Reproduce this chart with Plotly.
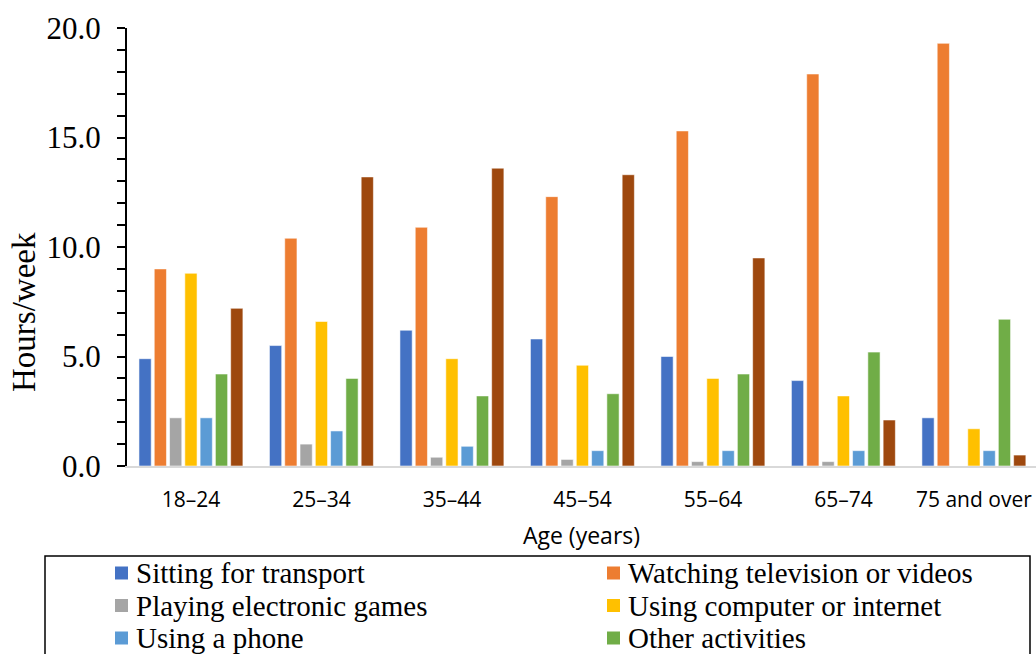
import plotly.graph_objects as go

categories = ["18–24", "25–34", "35–44", "45–54", "55–64", "65–74", "75 and over"]

sitting_transport = [4.9, 5.5, 6.2, 5.8, 5.0, 3.9, 2.2]
watching_tv = [9.0, 10.4, 10.9, 12.3, 15.3, 17.9, 19.3]
electronic_games = [2.2, 1.0, 0.4, 0.3, 0.2, 0.2, 0.0]
computer_internet = [8.8, 6.6, 4.9, 4.6, 4.0, 3.2, 1.7]
using_phone = [2.2, 1.6, 0.9, 0.7, 0.7, 0.7, 0.7]
other_activities = [4.2, 4.0, 3.2, 3.3, 4.2, 5.2, 6.7]
seventh_series = [7.2, 13.2, 13.6, 13.3, 9.5, 2.1, 0.5]

series_names = ["Sitting for transport", "Watching television or videos",
                "Playing electronic games", "Using computer or internet",
                "Using a phone", "Other activities", "Reading"]
series_values = [sitting_transport, watching_tv, electronic_games, computer_internet,
                 using_phone, other_activities, seventh_series]
series_colors = ["#4472C4", "#ED7D31", "#A5A5A5", "#FFC000", "#5B9BD5", "#70AD47", "#9E480E"]

W, H = 1036, 654
ML, MR, MT, MB = 127, 0, 28, 188
PW, PH = W - ML - MR, H - MT - MB


def px_x(px):
    return (px - ML) / PW


def px_y(py):
    return (H - MB - py) / PH


fig = go.Figure()
for name, vals, color in zip(series_names, series_values, series_colors):
    fig.add_trace(go.Bar(
        x=categories, y=vals, name=name, showlegend=False,
        marker=dict(color=color, line=dict(color="rgba(255,255,255,0.55)", width=1)),
    ))

serif = "Liberation Serif, Times New Roman, serif"
sans = "Open Sans, sans-serif"

# Legend (drawn manually to match the reference's compact two-column box;
# the last row falls below the visible canvas as in the reference)
shapes = [dict(type="rect", xref="paper", yref="paper",
               x0=px_x(45), x1=px_x(1030), y0=px_y(700), y1=px_y(556),
               line=dict(color="black", width=1.5), fillcolor="white", layer="above")]
annotations = []
col_x = [115, 607]
row_y = [573, 605.5, 638]
for i, (name, color) in enumerate(zip(series_names, series_colors)):
    r, c = divmod(i, 2)
    if r >= len(row_y):
        continue
    sx, sy = col_x[c], row_y[r]
    shapes.append(dict(type="rect", xref="paper", yref="paper",
                       x0=px_x(sx), x1=px_x(sx + 13), y0=px_y(sy + 6.5), y1=px_y(sy - 6.5),
                       line=dict(width=0), fillcolor=color, layer="above"))
    annotations.append(dict(xref="paper", yref="paper", x=px_x(sx + 19), y=px_y(sy),
                            text=name, showarrow=False, xanchor="left", yanchor="middle",
                            font=dict(family=serif, size=29, color="black")))

# y-axis title (sits below the axis centre in the reference)
annotations.append(dict(xref="paper", yref="paper", x=px_x(24), y=px_y(312),
                        text="Hours/week", textangle=-90, showarrow=False,
                        xanchor="center", yanchor="middle",
                        font=dict(family=serif, size=33, color="black")))

fig.update_layout(
    width=W, height=H,
    margin=dict(l=ML, r=MR, t=MT, b=MB),
    paper_bgcolor="white", plot_bgcolor="white",
    barmode="group", bargap=0.18, bargroupgap=0.2,
    showlegend=False,
    shapes=shapes, annotations=annotations,
    xaxis=dict(
        type="category", range=[-0.49, 6.476], automargin=False,
        showline=True, linecolor="#D9D9D9", linewidth=2,
        ticks="", showgrid=False, zeroline=False,
        tickfont=dict(family=sans, size=21, color="black"),
        ticklabelstandoff=14,
        title=dict(text="Age (years)", font=dict(family=sans, size=23, color="black"), standoff=16),
    ),
    yaxis=dict(
        range=[0, 20], tickvals=[0, 5, 10, 15, 20], tickformat=".1f", automargin=False,
        showline=True, linecolor="black", linewidth=2,
        ticks="outside", ticklen=8, tickwidth=1.5, tickcolor="black",
        minor=dict(dtick=1, ticks="outside", ticklen=8, tickwidth=1.5, tickcolor="black", showgrid=False),
        showgrid=False, zeroline=False,
        tickfont=dict(family=serif, size=31, color="black"),
        ticklabelstandoff=10,
    ),
)

fig.write_html("out.html", config={"displayModeBar": False},
               post_script="document.body.style.margin='0';document.body.style.padding='0';")
